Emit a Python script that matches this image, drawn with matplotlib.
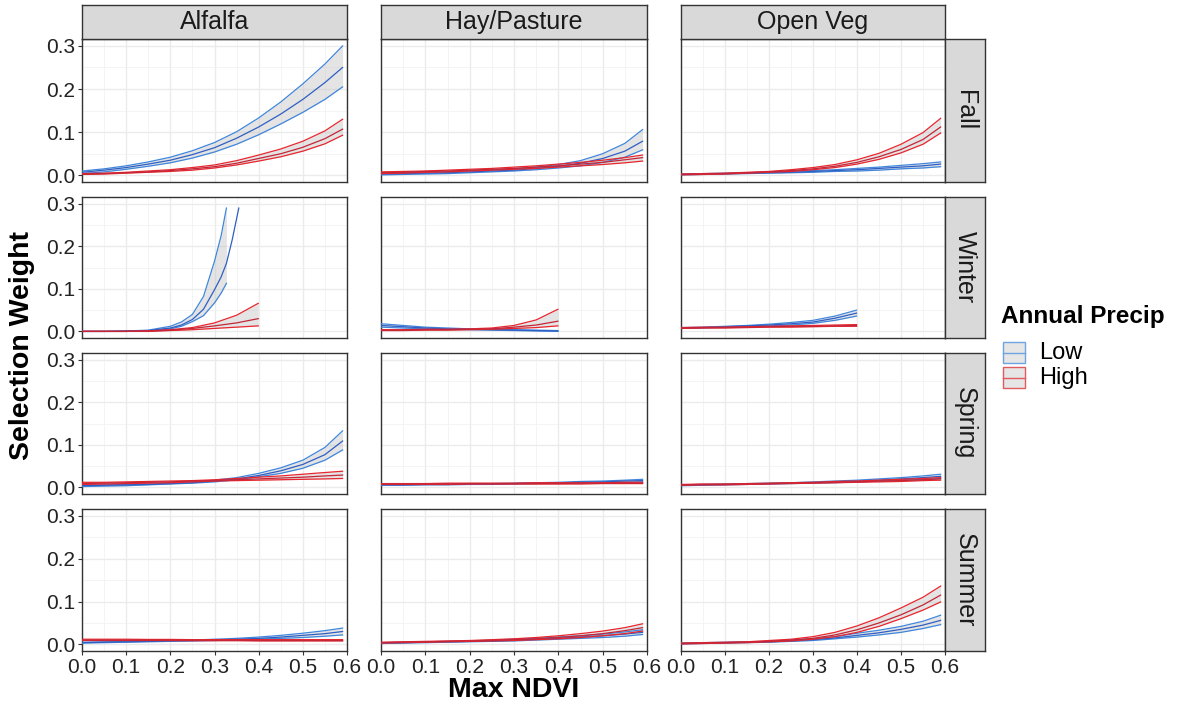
import numpy as np
import matplotlib
matplotlib.use("Agg")
import matplotlib.pyplot as plt
from matplotlib.patches import Rectangle
from matplotlib.lines import Line2D

plt.rcParams["font.family"] = ["Liberation Sans", "DejaVu Sans"]

nan = float("nan")

covers = ["Alfalfa", "Hay/Pasture", "Open Veg"]
seasons = ["Fall", "Winter", "Spring", "Summer"]
precip = ["Low", "High"]

# NDVI grids the predictions were made on
ndvi = [0.0, 0.05, 0.1, 0.15, 0.2, 0.25, 0.3, 0.35, 0.4, 0.45, 0.5, 0.55, 0.59]
ndvi_winter = [0.0, 0.05, 0.1, 0.15, 0.2, 0.25, 0.3, 0.35, 0.399]
ndvi_winter_alf_low = [0.0, 0.05, 0.1, 0.15, 0.2, 0.225, 0.25, 0.275, 0.3, 0.315, 0.327, 0.34, 0.355]

# each group: [lower CI, fit, upper CI]
fall_alf_low = [
    [0.004, 0.008, 0.014, 0.021, 0.029, 0.040, 0.054, 0.072, 0.094, 0.119, 0.146, 0.176, 0.205],
    [0.007, 0.012, 0.018, 0.026, 0.035, 0.048, 0.064, 0.086, 0.112, 0.142, 0.176, 0.215, 0.250],
    [0.010, 0.015, 0.022, 0.031, 0.042, 0.057, 0.076, 0.101, 0.133, 0.170, 0.212, 0.258, 0.300]]
fall_alf_high = [
    [0.002, 0.003, 0.005, 0.007, 0.009, 0.012, 0.017, 0.024, 0.033, 0.043, 0.056, 0.073, 0.093],
    [0.003, 0.004, 0.006, 0.008, 0.011, 0.015, 0.020, 0.028, 0.039, 0.050, 0.065, 0.085, 0.107],
    [0.004, 0.005, 0.007, 0.010, 0.013, 0.018, 0.024, 0.034, 0.047, 0.061, 0.079, 0.103, 0.130]]
fall_hay_low = [
    [0.001, 0.002, 0.003, 0.004, 0.006, 0.008, 0.010, 0.013, 0.017, 0.022, 0.030, 0.042, 0.059],
    [0.003, 0.004, 0.005, 0.006, 0.008, 0.010, 0.012, 0.016, 0.021, 0.028, 0.039, 0.056, 0.079],
    [0.005, 0.006, 0.007, 0.008, 0.010, 0.012, 0.015, 0.019, 0.025, 0.034, 0.050, 0.074, 0.106]]
fall_hay_high = [
    [0.004, 0.005, 0.007, 0.008, 0.010, 0.012, 0.014, 0.016, 0.019, 0.022, 0.025, 0.029, 0.033],
    [0.006, 0.007, 0.009, 0.010, 0.012, 0.014, 0.016, 0.019, 0.022, 0.026, 0.030, 0.036, 0.041],
    [0.008, 0.009, 0.010, 0.012, 0.014, 0.016, 0.019, 0.022, 0.026, 0.030, 0.035, 0.041, 0.047]]
fall_veg_low = [
    [0.001, 0.002, 0.003, 0.004, 0.005, 0.006, 0.007, 0.009, 0.010, 0.012, 0.015, 0.017, 0.020],
    [0.002, 0.003, 0.004, 0.005, 0.006, 0.007, 0.009, 0.011, 0.013, 0.016, 0.019, 0.022, 0.026],
    [0.003, 0.004, 0.005, 0.006, 0.007, 0.009, 0.011, 0.013, 0.016, 0.019, 0.023, 0.027, 0.031]]
fall_veg_high = [
    [0.001, 0.002, 0.003, 0.005, 0.007, 0.009, 0.013, 0.018, 0.026, 0.037, 0.052, 0.072, 0.098],
    [0.002, 0.003, 0.004, 0.006, 0.008, 0.011, 0.015, 0.021, 0.030, 0.043, 0.060, 0.083, 0.112],
    [0.003, 0.004, 0.005, 0.007, 0.009, 0.013, 0.018, 0.025, 0.036, 0.051, 0.072, 0.099, 0.132]]

winter_alf_low = [
    [0.000, 0.000, 0.000, 0.001, 0.006, 0.012, 0.023, 0.037, 0.067, 0.090, 0.113, nan, nan],
    [0.000, 0.000, 0.001, 0.002, 0.008, 0.015, 0.028, 0.052, 0.098, 0.128, 0.160, 0.215, 0.290],
    [0.000, 0.000, 0.001, 0.003, 0.012, 0.022, 0.040, 0.082, 0.165, 0.225, 0.290, nan, nan]]
winter_alf_high = [
    [0.000, 0.000, 0.000, 0.000, 0.002, 0.004, 0.007, 0.010, 0.013],
    [0.000, 0.000, 0.000, 0.001, 0.003, 0.007, 0.013, 0.020, 0.030],
    [0.000, 0.000, 0.000, 0.001, 0.004, 0.009, 0.020, 0.038, 0.066]]
winter_hay_low = [
    [0.010, 0.008, 0.006, 0.005, 0.004, 0.003, 0.002, 0.001, 0.000],
    [0.014, 0.011, 0.008, 0.006, 0.005, 0.004, 0.003, 0.002, 0.001],
    [0.018, 0.014, 0.010, 0.008, 0.006, 0.005, 0.004, 0.003, 0.002]]
winter_hay_high = [
    [0.002, 0.002, 0.003, 0.003, 0.004, 0.005, 0.007, 0.009, 0.013],
    [0.003, 0.003, 0.004, 0.004, 0.005, 0.006, 0.010, 0.015, 0.024],
    [0.004, 0.004, 0.005, 0.005, 0.006, 0.008, 0.014, 0.027, 0.052]]
winter_veg_low = [
    [0.007, 0.008, 0.010, 0.011, 0.013, 0.015, 0.019, 0.026, 0.036],
    [0.008, 0.009, 0.011, 0.013, 0.015, 0.018, 0.022, 0.031, 0.043],
    [0.009, 0.010, 0.012, 0.014, 0.017, 0.021, 0.026, 0.036, 0.050]]
winter_veg_high = [
    [0.007, 0.008, 0.008, 0.009, 0.010, 0.010, 0.011, 0.012, 0.012],
    [0.008, 0.009, 0.009, 0.010, 0.011, 0.012, 0.012, 0.013, 0.014],
    [0.009, 0.010, 0.010, 0.011, 0.012, 0.013, 0.014, 0.015, 0.016]]

spring_alf_low = [
    [0.002, 0.003, 0.004, 0.006, 0.008, 0.010, 0.013, 0.018, 0.025, 0.033, 0.045, 0.064, 0.088],
    [0.004, 0.005, 0.006, 0.007, 0.009, 0.011, 0.015, 0.020, 0.028, 0.039, 0.054, 0.077, 0.109],
    [0.006, 0.006, 0.007, 0.008, 0.010, 0.013, 0.017, 0.023, 0.033, 0.046, 0.064, 0.094, 0.133]]
spring_alf_high = [
    [0.007, 0.008, 0.009, 0.010, 0.011, 0.013, 0.015, 0.016, 0.017, 0.018, 0.019, 0.020, 0.021],
    [0.009, 0.010, 0.011, 0.012, 0.013, 0.015, 0.016, 0.018, 0.020, 0.022, 0.024, 0.027, 0.029],
    [0.012, 0.012, 0.013, 0.014, 0.015, 0.016, 0.018, 0.021, 0.024, 0.027, 0.031, 0.035, 0.038]]
spring_hay_low = [
    [0.005, 0.005, 0.006, 0.006, 0.007, 0.007, 0.008, 0.009, 0.010, 0.010, 0.011, 0.012, 0.013],
    [0.006, 0.006, 0.007, 0.007, 0.008, 0.008, 0.009, 0.010, 0.011, 0.012, 0.013, 0.015, 0.016],
    [0.007, 0.007, 0.008, 0.008, 0.009, 0.009, 0.010, 0.011, 0.012, 0.014, 0.015, 0.017, 0.019]]
spring_hay_high = [
    [0.007, 0.007, 0.007, 0.007, 0.008, 0.008, 0.008, 0.008, 0.008, 0.008, 0.009, 0.009, 0.009],
    [0.008, 0.008, 0.008, 0.008, 0.009, 0.009, 0.009, 0.009, 0.009, 0.010, 0.010, 0.010, 0.010],
    [0.009, 0.009, 0.009, 0.010, 0.010, 0.010, 0.010, 0.011, 0.011, 0.011, 0.011, 0.012, 0.012]]
spring_veg_low = [
    [0.004, 0.005, 0.006, 0.007, 0.008, 0.009, 0.010, 0.011, 0.013, 0.015, 0.017, 0.019, 0.021],
    [0.005, 0.006, 0.007, 0.008, 0.009, 0.010, 0.011, 0.013, 0.015, 0.017, 0.020, 0.023, 0.026],
    [0.006, 0.007, 0.008, 0.009, 0.010, 0.011, 0.013, 0.015, 0.017, 0.020, 0.023, 0.027, 0.031]]
spring_veg_high = [
    [0.005, 0.006, 0.006, 0.007, 0.008, 0.009, 0.010, 0.011, 0.012, 0.013, 0.014, 0.016, 0.017],
    [0.006, 0.007, 0.007, 0.008, 0.009, 0.010, 0.011, 0.012, 0.013, 0.015, 0.016, 0.018, 0.020],
    [0.007, 0.008, 0.008, 0.009, 0.010, 0.011, 0.012, 0.014, 0.015, 0.017, 0.019, 0.021, 0.023]]

summer_alf_low = [
    [0.003, 0.004, 0.005, 0.006, 0.007, 0.008, 0.009, 0.010, 0.012, 0.014, 0.016, 0.019, 0.022],
    [0.004, 0.005, 0.006, 0.007, 0.008, 0.009, 0.010, 0.012, 0.014, 0.017, 0.021, 0.025, 0.030],
    [0.005, 0.006, 0.007, 0.008, 0.009, 0.010, 0.012, 0.014, 0.017, 0.021, 0.026, 0.032, 0.038]]
summer_alf_high = [
    [0.009, 0.009, 0.009, 0.009, 0.009, 0.0085, 0.0085, 0.0085, 0.008, 0.008, 0.008, 0.008, 0.008],
    [0.010, 0.010, 0.010, 0.010, 0.010, 0.0095, 0.0095, 0.0095, 0.009, 0.009, 0.009, 0.009, 0.009],
    [0.012, 0.012, 0.012, 0.0115, 0.0115, 0.011, 0.011, 0.011, 0.011, 0.011, 0.011, 0.011, 0.011]]
summer_hay_low = [
    [0.002, 0.003, 0.004, 0.005, 0.006, 0.007, 0.008, 0.010, 0.012, 0.014, 0.016, 0.019, 0.023],
    [0.003, 0.004, 0.005, 0.006, 0.007, 0.008, 0.010, 0.012, 0.014, 0.017, 0.020, 0.024, 0.028],
    [0.004, 0.005, 0.006, 0.007, 0.008, 0.010, 0.012, 0.014, 0.017, 0.020, 0.024, 0.029, 0.034]]
summer_hay_high = [
    [0.003, 0.004, 0.005, 0.006, 0.007, 0.008, 0.009, 0.011, 0.013, 0.016, 0.020, 0.025, 0.031],
    [0.004, 0.005, 0.006, 0.007, 0.008, 0.009, 0.011, 0.013, 0.016, 0.020, 0.025, 0.032, 0.039],
    [0.005, 0.006, 0.007, 0.008, 0.009, 0.011, 0.013, 0.016, 0.020, 0.025, 0.031, 0.039, 0.048]]
summer_veg_low = [
    [0.001, 0.002, 0.003, 0.004, 0.005, 0.007, 0.009, 0.013, 0.017, 0.022, 0.028, 0.037, 0.046],
    [0.002, 0.003, 0.004, 0.005, 0.006, 0.008, 0.011, 0.015, 0.021, 0.027, 0.035, 0.045, 0.056],
    [0.003, 0.004, 0.005, 0.006, 0.007, 0.010, 0.013, 0.018, 0.026, 0.033, 0.042, 0.054, 0.068]]
summer_veg_high = [
    [0.001, 0.002, 0.003, 0.004, 0.006, 0.008, 0.012, 0.018, 0.028, 0.042, 0.060, 0.080, 0.099],
    [0.002, 0.003, 0.004, 0.005, 0.007, 0.010, 0.014, 0.022, 0.034, 0.050, 0.069, 0.092, 0.115],
    [0.003, 0.004, 0.005, 0.006, 0.009, 0.012, 0.018, 0.028, 0.043, 0.062, 0.085, 0.110, 0.136]]

# (season, cover) -> {precip: (x, [lo, fit, hi])}
curves = {
    ("Fall", "Alfalfa"): {"Low": (ndvi, fall_alf_low), "High": (ndvi, fall_alf_high)},
    ("Fall", "Hay/Pasture"): {"Low": (ndvi, fall_hay_low), "High": (ndvi, fall_hay_high)},
    ("Fall", "Open Veg"): {"Low": (ndvi, fall_veg_low), "High": (ndvi, fall_veg_high)},
    ("Winter", "Alfalfa"): {"Low": (ndvi_winter_alf_low, winter_alf_low),
                            "High": (ndvi_winter, winter_alf_high)},
    ("Winter", "Hay/Pasture"): {"Low": (ndvi_winter, winter_hay_low),
                                "High": (ndvi_winter, winter_hay_high)},
    ("Winter", "Open Veg"): {"Low": (ndvi_winter, winter_veg_low),
                             "High": (ndvi_winter, winter_veg_high)},
    ("Spring", "Alfalfa"): {"Low": (ndvi, spring_alf_low), "High": (ndvi, spring_alf_high)},
    ("Spring", "Hay/Pasture"): {"Low": (ndvi, spring_hay_low), "High": (ndvi, spring_hay_high)},
    ("Spring", "Open Veg"): {"Low": (ndvi, spring_veg_low), "High": (ndvi, spring_veg_high)},
    ("Summer", "Alfalfa"): {"Low": (ndvi, summer_alf_low), "High": (ndvi, summer_alf_high)},
    ("Summer", "Hay/Pasture"): {"Low": (ndvi, summer_hay_low), "High": (ndvi, summer_hay_high)},
    ("Summer", "Open Veg"): {"Low": (ndvi, summer_veg_low), "High": (ndvi, summer_veg_high)},
}

LINE = {"Low": "#3f86dc", "High": "#e8262e"}
FIT = {"Low": "#2f5fc4", "High": "#c42638"}
KEY = {"Low": "#6fa3e4", "High": "#e05a60"}
BORDER = "#333333"

W, H = 1182, 711
fig = plt.figure(figsize=(W / 100, H / 100), dpi=100)


def px_axes(x0, y0, x1, y1):
    return fig.add_axes([x0 / W, 1 - y1 / H, (x1 - x0) / W, (y1 - y0) / H])


def strip(x0, y0, x1, y1, label, rot):
    sax = px_axes(x0, y0, x1, y1)
    sax.set_facecolor("#d9d9d9")
    sax.set_xticks([])
    sax.set_yticks([])
    for s in sax.spines.values():
        s.set_color(BORDER)
        s.set_linewidth(1.0)
    sax.text(0.5, 0.5, label, ha="center", va="center", fontsize=18,
             rotation=rot, color="#1a1a1a", transform=sax.transAxes)


col_px = [(82, 347), (381, 647), (681, 945)]
row_px = [(39, 182), (197, 338), (353, 494), (509, 651)]

for r, season in enumerate(seasons):
    for c, cover in enumerate(covers):
        x0, x1 = col_px[c]
        y0, y1 = row_px[r]
        ax = px_axes(x0, y0, x1, y1)
        ax.set_xlim(0, 0.6)
        ax.set_ylim(-0.0155, 0.316)
        ax.set_xticks(np.arange(0, 0.61, 0.1))
        ax.set_yticks(np.arange(0, 0.31, 0.1))
        ax.set_xticks(np.arange(0.05, 0.6, 0.1), minor=True)
        ax.set_yticks(np.arange(0.05, 0.3, 0.1), minor=True)
        ax.grid(True, which="major", color="#ebebeb", lw=1.0, zorder=0)
        ax.grid(True, which="minor", color="#f2f2f2", lw=0.6, zorder=0)
        ax.set_axisbelow(True)
        for s in ax.spines.values():
            s.set_color(BORDER)
            s.set_linewidth(1.0)
        ax.tick_params(which="major", length=3, width=0.8, color=BORDER,
                       labelsize=15, labelcolor="#222222", pad=2)
        ax.tick_params(which="minor", length=0)
        if r == len(seasons) - 1:
            ax.set_xticklabels([f"{v:.1f}" for v in np.arange(0, 0.61, 0.1)])
        else:
            ax.tick_params(axis="x", which="major", length=0, labelbottom=False)
        if c == 0:
            ax.set_yticklabels([f"{v:.1f}" for v in np.arange(0, 0.31, 0.1)])
        else:
            ax.tick_params(axis="y", which="major", length=0, labelleft=False)

        for p in precip:
            xs, (lo, fit, hi) = curves[(season, cover)][p]
            xs = np.array(xs)
            lo, fit, hi = np.array(lo), np.array(fit), np.array(hi)
            ok = ~np.isnan(lo)
            ax.fill_between(xs[ok], lo[ok], hi[ok], color="#bdbdbd", alpha=0.4,
                            lw=0, zorder=2)
            ax.plot(xs, lo, color=LINE[p], lw=0.9, zorder=3)
            ax.plot(xs, hi, color=LINE[p], lw=0.9, zorder=3)
            ax.plot(xs, fit, color=FIT[p], lw=0.9, zorder=3)

        # strip labels: cover on top row, season on right column
        if r == 0:
            strip(x0, 5, x1, 39, cover, 0)
        if c == len(covers) - 1:
            strip(945, y0, 985, y1, season, -90)

fig.text(22 / W, 1 - 345 / H, "Selection Weight", rotation=90, ha="center",
         va="center", fontsize=20.5, fontweight="bold")
fig.text(514 / W, 1 - 690 / H, "Max NDVI", ha="center", va="center",
         fontsize=20.5, fontweight="bold")

# legend drawn by hand: grey ribbon key with coloured outline and centre line
fig.text(1001 / W, 1 - 316 / H, "Annual Precip", ha="left", va="center",
         fontsize=17.5, fontweight="bold")
for i, p in enumerate(precip):
    ky0 = 342 + i * 25
    fig.patches.append(Rectangle((1003 / W, 1 - (ky0 + 21) / H), 22 / W, 21 / H,
                                 transform=fig.transFigure, facecolor="#e6e6e6",
                                 edgecolor=KEY[p], lw=1.0))
    fig.lines.append(Line2D([1003 / W, 1025 / W], [1 - (ky0 + 10.5) / H] * 2,
                            transform=fig.transFigure, color=KEY[p], lw=1.0))
    fig.text(1039 / W, 1 - (ky0 + 11) / H, p, ha="left", va="center", fontsize=17)

fig.savefig("out.png", dpi=100)
